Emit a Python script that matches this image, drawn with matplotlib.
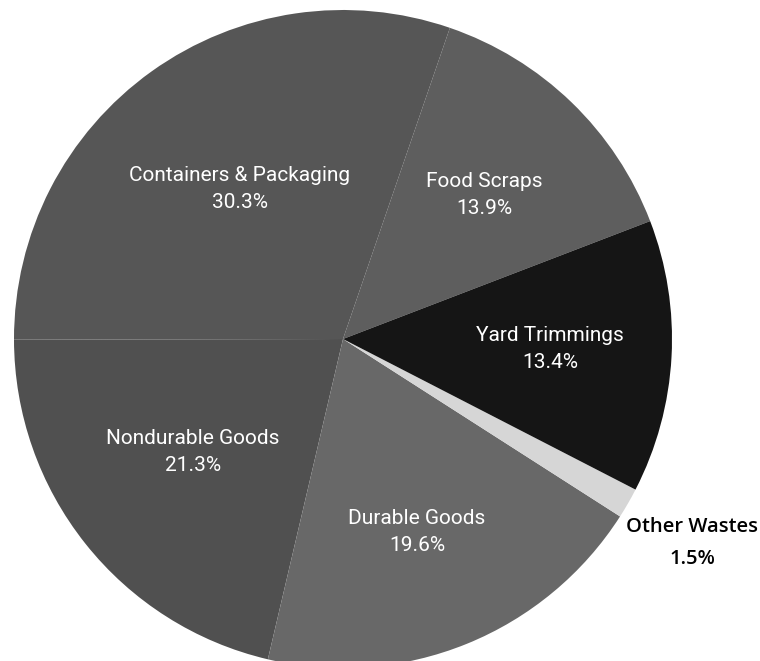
import matplotlib.pyplot as plt

categories = ['Food Scraps', 'Containers & Packaging', 'Nondurable Goods',
              'Durable Goods', 'Other Wastes', 'Yard Trimmings']
shares = [13.9, 30.3, 21.3, 19.6, 1.5, 13.4]

grays = ['#5e5e5e', '#565656', '#505050', '#686868', '#d6d6d6', '#151515']
# label block centres in pixels from the top-left corner
label_xy = [(484, 195), (240, 189), (193, 452), (417, 532), (692, 543), (550, 349)]

W, H = 760, 661
fig = plt.figure(figsize=(W / 100, H / 100), dpi=100)
ax = fig.add_axes([0, 0, 1, 1])

ax.pie(shares, colors=grays, startangle=21, counterclock=True,
       radius=329, center=(343, H - 339),
       wedgeprops=dict(linewidth=0))
ax.set_xlim(0, W)
ax.set_ylim(0, H)
ax.set_aspect('equal')
ax.axis('off')

for name, val, (x, y) in zip(categories, shares, label_xy):
    txt = f'{name}\n{val}%'
    if name == 'Other Wastes':
        ax.text(x, H - y, txt, ha='center', va='center', multialignment='center',
                color='black', fontsize=14.5, fontweight=600,
                family=['Open Sans', 'DejaVu Sans'], linespacing=1.75)
    else:
        ax.text(x, H - y, txt, ha='center', va='center', multialignment='center',
                color='white', fontsize=15, family=['Roboto', 'DejaVu Sans'],
                linespacing=1.55)

fig.savefig('out.png', dpi=100)
